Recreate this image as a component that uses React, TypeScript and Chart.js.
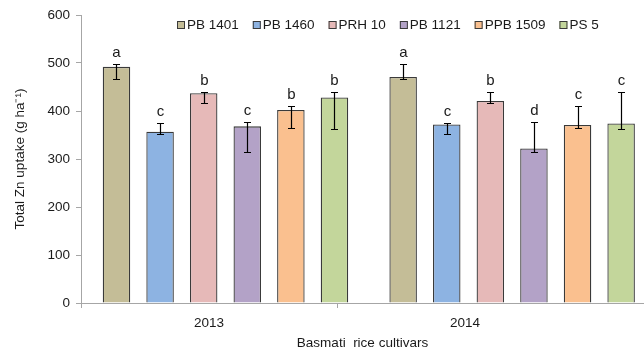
import React, { useEffect, useRef } from 'react';
import { Chart, registerables } from 'chart.js';

Chart.register(...registerables);

const years = ['2013', '2014'];
const cultivars = ['PB 1401', 'PB 1460', 'PRH 10', 'PB 1121', 'PPB 1509', 'PS 5'];
const uptake2013 = [492, 357, 437, 368, 402, 428];
const uptake2014 = [471, 372, 421, 322, 371, 374];
const errHigh2013 = [497, 374, 440, 378, 410, 440];
const errLow2013 = [467, 353, 417, 314, 364, 363];
const errHigh2014 = [497, 375, 440, 378, 410, 440];
const errLow2014 = [467, 353, 417, 314, 364, 363];
const letters2013 = ['a', 'c', 'b', 'c', 'b', 'b'];
const letters2014 = ['a', 'c', 'b', 'd', 'c', 'c'];
const yMin = 0;
const yMax = 600;
const yStep = 100;

const fills = ['#C4BD97', '#8DB3E2', '#E6B9B8', '#B3A2C7', '#FAC08F', '#C3D69B'];
const FONT = "'Liberation Sans', Arial, sans-serif";
const AXIS_GREY = '#a6a6a6';
const TEXT = '#1a1a1a';
const BAR_BORDER = '#3a3a3a';

export default function App() {
  const ref = useRef<HTMLCanvasElement>(null);

  useEffect(() => {
    const canvas = ref.current;
    if (!canvas) return;

    const highs = [errHigh2013, errHigh2014];
    const lows = [errLow2013, errLow2014];
    const letters = [letters2013, letters2014];
    const values = [uptake2013, uptake2014];

    const errPlugin = {
      id: 'errbars',
      afterDatasetsDraw(chart: any) {
        const ctx = chart.ctx;
        const y = chart.scales.y;
        ctx.save();
        chart.data.datasets.forEach((_ds: any, i: number) => {
          const meta = chart.getDatasetMeta(i);
          meta.data.forEach((bar: any, j: number) => {
            const x = Math.round(bar.x) + 0.5;
            const yh = Math.round(y.getPixelForValue(highs[j][i])) + 0.5;
            const yl = Math.round(y.getPixelForValue(lows[j][i])) + 0.5;
            ctx.strokeStyle = '#000';
            ctx.lineWidth = 1.2;
            ctx.beginPath();
            ctx.moveTo(x, yh);
            ctx.lineTo(x, yl);
            ctx.moveTo(x - 3.5, yh);
            ctx.lineTo(x + 3.5, yh);
            ctx.moveTo(x - 3.5, yl);
            ctx.lineTo(x + 3.5, yl);
            ctx.stroke();
            ctx.fillStyle = TEXT;
            ctx.font = `15px ${FONT}`;
            ctx.textAlign = 'center';
            ctx.textBaseline = 'alphabetic';
            ctx.fillText(letters[j][i], x, yh - 8);
          });
        });
        ctx.restore();
      },
    };

    const legendPlugin = {
      id: 'customLegend',
      afterDraw(chart: any) {
        const ctx = chart.ctx;
        ctx.save();
        ctx.font = `13.5px ${FONT}`;
        ctx.textBaseline = 'middle';
        ctx.textAlign = 'left';
        let x = 177;
        const yc = 25;
        chart.data.datasets.forEach((ds: any) => {
          ctx.fillStyle = ds.backgroundColor;
          ctx.fillRect(x, yc - 4, 8, 8);
          ctx.strokeStyle = BAR_BORDER;
          ctx.lineWidth = 1;
          ctx.strokeRect(x + 0.5, yc - 3.5, 7, 7);
          ctx.fillStyle = TEXT;
          ctx.fillText(ds.label, x + 10, yc + 0.5);
          x += 10 + ctx.measureText(ds.label).width + 14;
        });
        ctx.restore();
      },
    };

    const catWidth = 256;

    const chart = new Chart(canvas, {
      type: 'bar',
      data: {
        datasets: cultivars.map((name, i) => ({
          label: name,
          data: years.map((_yr, j) => ({ x: j, y: values[j][i] })),
          backgroundColor: fills[i],
          borderColor: BAR_BORDER,
          borderWidth: 1.3,
          categoryPercentage: 0.9125,
          barPercentage: 0.631,
        })),
      },
      options: {
        responsive: false,
        animation: false,
        devicePixelRatio: 1,
        layout: { padding: { top: 15, left: 0, right: 0, bottom: 0 } },
        plugins: {
          legend: { display: false },
          tooltip: { enabled: false },
        },
        scales: {
          x: {
            type: 'linear',
            display: false,
            offset: false,
            grid: { offset: false },
            min: -0.504,
            max: 1.46,
            afterBuildTicks: (s: any) => {
              s.ticks = years.map((_y, j) => ({ value: j }));
            },
          },
          x2: {
            type: 'linear',
            position: 'bottom',
            offset: false,
            min: 0,
            max: 563 / catWidth,
            afterBuildTicks: (s: any) => {
              s.ticks = [0, 0.5, 1, 1.5, 2].map((v) => ({ value: v }));
            },
            afterFit: (s: any) => {
              s.height = 53;
              s.paddingLeft = 0;
              s.paddingRight = 0;
            },
            ticks: {
              autoSkip: false,
              maxRotation: 0,
              padding: 7,
              color: TEXT,
              font: { family: FONT, size: 13.5 },
              callback: (v: any) => {
                const n = Number(v);
                return n % 1 === 0.5 ? years[Math.floor(n)] : '';
              },
            },
            grid: {
              offset: false,
              drawOnChartArea: false,
              drawTicks: true,
              tickLength: 5,
              color: (c: any) =>
                c.tick && Number.isInteger(c.tick.value) && c.tick.value < 2 ? AXIS_GREY : 'rgba(0,0,0,0)',
            },
            border: { display: true, color: AXIS_GREY, width: 1 },
            title: {
              display: true,
              text: 'Basmati  rice cultivars',
              color: TEXT,
              font: { family: FONT, size: 13.5 },
              padding: { top: 0, bottom: 5 },
            },
          },
          y: {
            min: yMin,
            max: yMax,
            afterFit: (s: any) => {
              s.width = 81;
            },
            ticks: {
              stepSize: yStep,
              padding: 6,
              color: TEXT,
              font: { family: FONT, size: 13.5 },
            },
            grid: {
              drawOnChartArea: false,
              drawTicks: true,
              tickLength: 5,
              color: AXIS_GREY,
            },
            border: { display: true, color: AXIS_GREY, width: 1 },
            title: {
              display: true,
              text: 'Total Zn uptake (g ha\u207B\u00B9)',
              color: TEXT,
              font: { family: FONT, size: 13.5 },
              padding: { top: 12, bottom: 0 },
            },
          },
        },
      } as any,
      plugins: [errPlugin, legendPlugin],
    });

    return () => chart.destroy();
  }, []);

  return (
    <div style={{ position: 'fixed', left: 0, top: 0, width: 644, height: 356, background: '#fff' }}>
      <canvas ref={ref} width={644} height={356} style={{ display: 'block', width: 644, height: 356 }} />
    </div>
  );
}
